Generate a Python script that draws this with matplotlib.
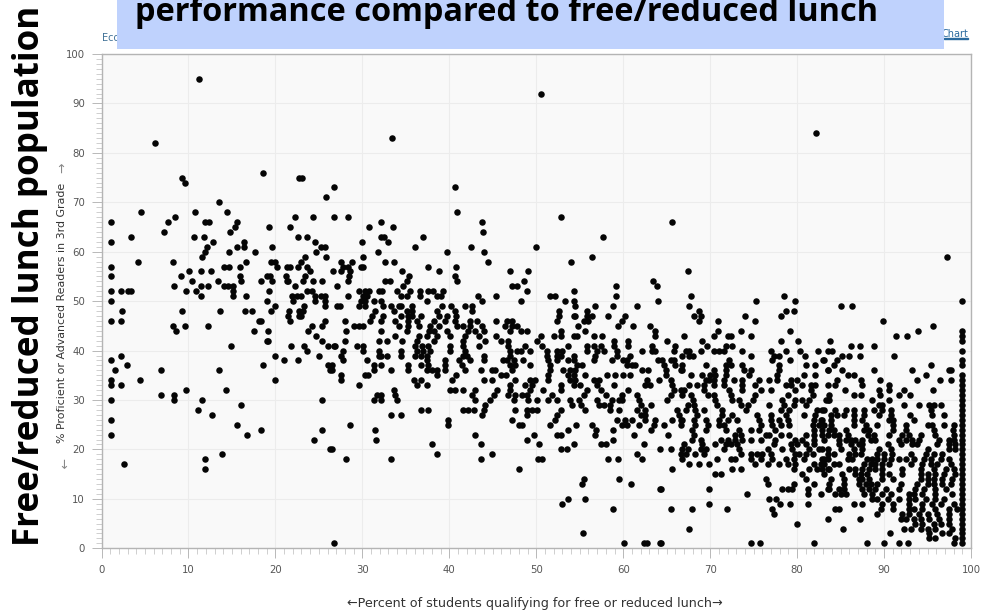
import numpy as np
import matplotlib
matplotlib.use("Agg")
import matplotlib.pyplot as plt
from matplotlib.patches import Rectangle
from matplotlib.ticker import MultipleLocator

# x values (percent free/reduced lunch) of the schools at each reading score
p95 = [11.2]
p92 = [50.6]
p84 = [82.2]
p83 = [33.4]
p82 = [6.2]
p76 = [18.6]
p75 = [9.3, 22.7, 23.1]
p74 = [9.6]
p73 = [26.7, 40.6]
p71 = [25.8]
p70 = [13.5]
p68 = [4.6, 10.7, 14.4, 40.9]
p67 = [8.5, 22.2, 24.3, 26.7, 28.4, 52.8]
p66 = [1.1, 7.7, 11.9, 12.4, 15.6, 32.2, 43.8, 65.6]
p65 = [15.3, 19.3, 21.7, 30.8, 33.5]
p64 = [7.2, 14.8, 43.9]
p63 = [3.4, 10.6, 11.8, 22.6, 23.6, 32.2, 32.5, 37, 57.7]
p62 = [1.1, 12.8, 16.4, 24.6, 30, 33]
p61 = [12.1, 15.6, 16.4, 19.6, 25.2, 25.7, 36, 42.5, 50]
p60 = [11.9, 14.7, 17.6, 24.7, 31.8, 39.7, 44]
p59 = [11.6, 23.4, 25.8, 30.1, 56.4, 97.2]
p58 = [4.2, 8.2, 16.6, 19.5, 20, 23, 27.5, 28.8, 32.6, 33.6, 44.4, 54]
p57 = [1.1, 14.1, 14.7, 15.9, 20.2, 21.3, 21.7, 22.6, 23.6, 27.8, 28.4, 29.8, 30.1, 37.5, 40.8]
p56 = [10.1, 11.5, 12.6, 24, 26.6, 27.6, 28.6, 34.6, 38.8, 47, 49, 67.5]
p55 = [1.1, 9.1, 15.9, 19, 19.4, 21.2, 23.4, 28.5, 35.4, 40.7]
p54 = [10.4, 13.4, 16.1, 18.4, 19.6, 21.3, 21.5, 23.2, 24.3, 25.4, 28.3, 32.6, 33.2, 35.1, 40.9, 48.6, 63.4]
p53 = [8.3, 11.5, 12.2, 14.1, 14.6, 15.1, 22.2, 27.1, 34.7, 47.2, 47.8, 59.2, 63.9]
p52 = [1.1, 2.2, 3.1, 3.4, 9.7, 10.9, 15.1, 19.3, 23.6, 24.2, 29.6, 30.3, 30.8, 31.9, 32.3, 34, 35.5,
       36.6, 37.6, 38.1, 39.3, 48.9, 54.3]
p51 = [11.5, 15.1, 16.6, 21.9, 22.5, 23, 24.5, 25.3, 25.7, 28.3, 30.1, 30.5, 34.5, 35.1, 36.6, 38.6,
       39.1, 43.3, 45.4, 51.6, 52.2, 59.2, 67.8, 78.5]
p50 = [1.1, 19, 22, 24.5, 25.7, 29.8, 30.3, 31.3, 32.2, 37.4, 43.8, 48.2, 53.3, 54.3, 64, 75.3, 79.8]
p49 = [19.9, 23.3, 25.7, 27.1, 27.4, 29.6, 30.3, 32.4, 33.3, 34.2, 34.5, 35.7, 39.2, 40.2, 41.8, 42.6,
       54.4, 56.7, 58.8, 61.6, 67.6, 85, 86.3]
p48 = [2.4, 9.3, 13.6, 16.5, 17.3, 19.5, 21.6, 22.7, 23.2, 31.5, 33.6, 35.1, 35.7, 38.6, 40.7, 42.6,
       52.6, 55.8, 68.7, 78.7, 79.6]
p47 = [21.4, 22.7, 23, 31.1, 32.4, 34.4, 35.3, 35.7, 36.7, 38.8, 39.7, 40.8, 52.6, 54.3, 54.5, 55.8,
       56.4, 58.3, 60.2, 68.1, 69, 74, 78.1]
p46 = [1.1, 2.3, 18.1, 18.3, 21.7, 25.7, 28, 30.9, 32.2, 33.8, 35.3, 36.3, 38.2, 39.5, 40.7, 42.4, 43.2,
       45.4, 46.6, 47.2, 52.4, 55.5, 56, 59.9, 68.7, 70.9, 75.2, 89.9]
p45 = [8.2, 9.6, 12.3, 24.2, 25.4, 29, 29.6, 30.1, 34.2, 35.3, 36.5, 37.8, 38.8, 40.9, 41.6, 42.4, 43.8,
       46.4, 47.2, 47.8, 54.8, 59.4, 61.1, 63.1, 95.6]
p44 = [8.6, 17.5, 19.2, 23.8, 28.1, 32.2, 35.1, 37.7, 38.2, 39.7, 42.2, 43, 44, 47, 48.2, 48.9, 52.8,
       55.6, 63.6, 70.9, 73.6, 79.2, 93.9]
p43 = [24.7, 33.7, 36.5, 37.4, 38.6, 40.1, 41.8, 43.4, 45.4, 50.5, 52, 52.8, 54.3, 54.7, 56.6, 57.6,
       63.7, 67, 70.4, 72, 72.4, 74.7, 91.4, 92.6]
p42 = [19, 19.2, 25.4, 28, 31.9, 32.8, 34.6, 36.3, 38.2, 41.6, 44.1, 45.9, 46.8, 50.1, 58.9, 60.6, 65,
       69.1, 78.1, 80.1, 83.8]
p41 = [14.9, 21.8, 23.3, 26.1, 26.7, 26.9, 29.4, 30.1, 36.1, 36.9, 37.6, 40.1, 41.6, 43.4, 46.8, 48.7,
       50.7, 53.7, 55.8, 56.6, 57.4, 58.9, 60.6, 63.3, 66, 69.6, 71.8, 72.5, 86.2, 87.2, 88.9]
p40 = [23.6, 27.8, 30.1, 31.9, 34.5, 36.3, 37, 37.8, 40.1, 41.8, 47, 47.8, 48.2, 49.3, 51.2, 52.4, 53,
       55.8, 57, 57.8, 59.3, 62.2, 63.3, 63.7, 65.8, 67.2, 67.6, 68.9, 70.4, 71, 71.6, 73.7, 77, 78.7,
       80.3, 82.4, 83.6, 84]
p39 = [2.3, 20, 25, 27.5, 31.9, 32.2, 32.8, 34.5, 36.1, 36.7, 37.4, 41.6, 42, 44, 47, 51.2, 52.4, 52.8,
       54.3, 56.8, 59.3, 60.8, 66.8, 67.6, 68, 74.7, 77.3, 77.9, 80.9, 85.2, 86, 87.2, 91.2]
p38 = [1.1, 21, 22.6, 27.8, 30.5, 37.4, 39.5, 41.1, 42.4, 44, 46.2, 46.6, 47.4, 48.5, 51.4, 52.4, 53.7,
       54.3, 56.6, 58.7, 60, 60.4, 64, 64.5, 65.5, 65.8, 72.2, 77.1, 79.2, 83, 83.1, 84.6]
p37 = [2.9, 18.6, 26.1, 26.5, 31.3, 32.2, 35.2, 36.8, 37.6, 39.5, 41.5, 47, 47.6, 49.3, 51.6, 54.7, 55.3,
       60.4, 61, 61.4, 64.7, 66, 66.8, 69.5, 71.8, 72.4, 73.7, 77.9, 81, 82.1, 84.2, 95.4]
p36 = [1.6, 6.8, 13.5, 26.3, 26.5, 31.3, 33.3, 35.3, 37.4, 38, 38.6, 39.5, 41.8, 43.6, 44.9, 45.2, 47.2,
       51.6, 53.1, 53.9, 54.5, 62.2, 62.9, 64.9, 66.6, 66.8, 70.4, 71.8, 73.9, 74.7, 77.9, 83.5, 83.6, 85.2,
       88.9, 93.2, 97.5, 97.7]
p35 = [27.6, 30.3, 30.7, 38.6, 40.8, 46, 46.5, 51.4, 53.7, 54.3, 55.6, 58.1, 59.1, 60, 60.8, 64.9, 67.8,
       69.1, 70, 70.6, 71.8, 74.5, 77.7, 80.8, 82.1, 85.8, 86.5, 94.8]
p34 = [1.1, 4.4, 19.9, 27.6, 35.9, 36.8, 40.3, 44, 44.9, 47.6, 49.3, 49.8, 51.4, 53.9, 54.5, 56.6, 57.2,
       62.7, 64.1, 65.5, 69.5, 69.9, 70.4, 71.6, 72.7, 73.7, 75.6, 76.8, 77.7, 79.3, 80, 84.6, 87.3, 89.5,
       93.8, 96.4, 97.7]
p33 = [1.1, 2.2, 29.6, 36.3, 37.4, 47, 48.7, 49.5, 52.8, 54.3, 55, 57, 58.9, 62.5, 63.1, 65.6, 67.6, 68.5,
       69.3, 70.4, 71.6, 73.7, 75.2, 78.7, 79.3, 80.6, 81.6, 82.1, 83.5, 84.4, 87.5, 90.6]
p32 = [9.7, 14.3, 33.6, 40.1, 40.7, 41.6, 43, 45.5, 47, 49.3, 50.8, 52.8, 55.8, 57.4, 60.6, 65.8, 66.6, 67,
       69.3, 72.2, 73.7, 75.8, 77, 79.8, 81.6, 85.5, 89.4, 90.6, 92.3, 95.6]
p31 = [6.8, 8.3, 31.7, 32.2, 33.8, 42.6, 45.1, 46.8, 47.6, 48.4, 48.9, 51.8, 55.5, 58, 59.9, 61.6, 65.5,
       66.8, 67.8, 69.7, 70.4, 72.4, 75.2, 79, 81.8, 83.7, 86.5, 87.3, 89.5, 91.7, 93]
p30 = [1.1, 8.3, 11.6, 25.4, 31.3, 32.2, 34, 43, 44.7, 47.4, 49.1, 50.1, 51.4, 52.4, 53.9, 54.9, 57, 58.7,
       59.5, 59.9, 61.8, 65, 68, 70.6, 72.5, 73.3, 74.9, 78.3, 79.8, 80.6, 81.4, 83.3, 83.5, 83.7, 88.6, 90.6]
p29 = [16.1, 44.1, 54.1, 55.1, 57.2, 57.8, 58.5, 62, 63.2, 67.4, 68.1, 70.8, 73.5, 74.3, 76.8, 78.5, 79.6, 81,
       89.4, 89.8, 92.3, 94, 95.2, 95.7, 96.5]
p28 = [11.1, 36.8, 37.6, 41.6, 42.2, 42.8, 44, 47.5, 48.9, 49.5, 50.1, 52.8, 55.6, 58.5, 59.5, 61.6, 62.5,
       66.2, 67.2, 68.3, 69.3, 71.4, 74.1, 78.1, 79.1, 82.3, 82.9, 83.1, 84.4, 85.6, 86.5, 87.7, 88.8, 89.8,
       90.8, 95.4]
p27 = [12.7, 33.3, 34.4, 43.8, 48.9, 52.4, 62, 62.5, 66.4, 68.5, 71.4, 72.5, 75.4, 77, 78.7, 80.8, 82.1,
       83.9, 84.6, 85.4, 86.5, 87.7, 89.4, 90.8, 93, 95.5, 96.9]
p26 = [1.1, 39.8, 47.2, 52.2, 59.3, 60.2, 61, 62.5, 63.7, 65.6, 66.6, 66.8, 68.1, 69.5, 71, 72, 73.1, 75.6, 77,
       77.9, 79, 81.9, 82.7, 82.9, 83.9, 86.5, 87.5, 90.6, 91, 93.4]
p25 = [15.6, 28.6, 39.8, 48, 48.4, 51.6, 54.6, 56.4, 59.9, 60.4, 61.8, 63.5, 64.7, 66.6, 68.3, 69.7, 71, 71.6,
       75.8, 77.1, 78.1, 79.1, 81.8, 82.5, 83.1, 83.9, 86.5, 87.9, 89.2, 91, 92.5, 95, 95.5, 96.9, 98]
p24 = [18.4, 25.4, 31.5, 53.7, 56.9, 58.8, 63.2, 67.9, 69.5, 71.8, 73.3, 74.7, 75.6, 77.5, 81.9, 82.9, 83.7,
       84.2, 85.6, 87.7, 88.3, 91, 92.5, 95.7, 97.9]
p23 = [1.1, 16.7, 43, 49.7, 52.4, 52.8, 56.8, 61.2, 65.2, 68.1, 72.9, 73.5, 76.4, 76.8, 78.1, 79.1, 81, 81.9,
       82.9, 83.5, 84.2, 84.8, 85.8, 88.1, 88.8, 90.6, 92.1, 92.9, 94.2, 95.9, 98]
p22 = [24.4, 31.6, 48.9, 58.8, 67.9, 68.9, 71.2, 72, 72.9, 73.7, 74.7, 75.8, 77.5, 79.8, 80.6, 81.9, 83.1, 84.8,
       85.6, 86.2, 86.7, 87.5, 88.5, 89, 91.7, 92.5, 93.2, 94, 96.3, 97.5, 98]
p21 = [38, 43.6, 50.3, 54.3, 57.4, 58, 62.4, 67, 69.1, 70.6, 71.8, 72.4, 73.1, 77.3, 79.3, 80, 81, 81.9, 84.8,
       86.2, 87.1, 87.5, 90.4, 91.9, 93.2, 93.8, 96.1, 97.5, 98.2]
p20 = [26.3, 26.5, 52.8, 53.5, 64.2, 65.5, 66.8, 67.4, 68.9, 69.5, 71.6, 73.3, 76.6, 78.3, 79.4, 81.4, 82.5,
       82.9, 83.5, 85, 86.5, 87.5, 89.4, 90.8, 95, 97.5, 98.2]
p19 = [13.9, 38.6, 44.9, 61.6, 66.6, 67.2, 68.3, 69.3, 73.5, 74.7, 75.4, 76, 77, 79.8, 80.2, 81, 81.8, 83.5,
       84.2, 86, 86.7, 87.3, 89.2, 90, 90.9, 93.1, 94.8, 95.7, 96.7]
p18 = [11.9, 28.1, 33.3, 43.6, 50.2, 50.7, 58.3, 59.4, 62.2, 66.8, 70.8, 72.4, 72.9, 74.7, 75.8, 77.1, 78.7,
       79.6, 80.8, 82.9, 83.1, 83.5, 85.8, 86.3, 88, 88.6, 89.2, 90, 90.8, 91.7, 92.5, 93.4, 94.6, 95.4, 96.5,
       97.5]
p17 = [2.6, 67.6, 68.7, 69.9, 75.2, 76.7, 77.9, 78.9, 79.8, 81.9, 82.7, 83.1, 84.2, 84.8, 87.7, 88.5, 89, 89.8,
       90.6, 93.1, 94.4, 95.4, 96.1, 97.7]
p16 = [11.9, 48, 65.6, 72.5, 73.6, 79.6, 81.4, 82.3, 82.9, 83.5, 83.7, 86, 86.7, 87.5, 88.3, 89, 89.8, 92.1,
       94.2, 95.7, 97.1, 98]
p15 = [70.6, 71.3, 80.6, 83.1, 85.2, 86.7, 87.3, 88, 89.8, 90.6, 92.1, 94.2, 95, 95.9, 96.9, 98.2]
p14 = [55.5, 59.5, 76.4, 81, 83.9, 85.4, 87.1, 87.5, 88.3, 89.8, 91, 94.2, 95, 95.7, 96.7, 97.8]
p13 = [55.3, 60.9, 76.6, 79.6, 81.9, 83.7, 85.4, 87.1, 87.9, 88.5, 89.2, 91.9, 93.8, 95, 95.7, 96.7, 97.7]
p12 = [64.2, 64.4, 69.9, 78.3, 78.9, 79.4, 81.2, 83.5, 83.7, 84.8, 85.4, 87.5, 88.3, 89, 90.2, 91.7, 93.6, 94.6,
       95.9, 97.1]
p11 = [74.2, 81.2, 82.7, 84.4, 85, 85.6, 87.7, 88.6, 89.8, 90.8, 92.9, 93.4, 94.4, 95.9, 97.8]
p10 = [53.6, 55.6, 76.8, 77.6, 88.6, 89.2, 90.4, 91.7, 92.9, 93.6, 94.8, 95.9, 96.9]
p9 = [53, 69.9, 78, 79.2, 81.3, 86.5, 87.5, 89.8, 91, 92.9, 94.4, 95.5, 96.5, 98]
p8 = [58.8, 65.5, 67.9, 71.9, 77.1, 84.4, 84.8, 89.6, 91, 92.9, 93.4, 94.4, 95.9, 97.5, 98.4]
p7 = [77.4, 89.2, 92.1, 92.9, 94, 95, 96.1, 97.5]
p6 = [83.5, 87.2, 91.9, 92.5, 93.4, 94.2, 95.2, 96.3, 97.5]
p5 = [80, 93.6, 94.4, 95.7, 96.5, 97.5]
p4 = [67.6, 85.3, 92.3, 93.1, 94.2, 95, 95.9, 97.8]
p3 = [55.4, 90.7, 95.2, 96.7, 97.5]
p2 = [95.2, 95.9, 98.2]
p1 = [26.7, 60.1, 62.4, 62.7, 64.2, 64.4, 74.7, 75.7, 82, 88, 90, 91.7, 92.7, 98]

scores = [95, 92, 84, 83, 82, 76, 75, 74, 73, 71, 70, 68, 67, 66, 65, 64, 63, 62, 61, 60, 59, 58, 57, 56, 55,
          54, 53, 52, 51, 50, 49, 48, 47, 46, 45, 44, 43, 42, 41, 40, 39, 38, 37, 36, 35, 34, 33, 32, 31, 30,
          29, 28, 27, 26, 25, 24, 23, 22, 21, 20, 19, 18, 17, 16, 15, 14, 13, 12, 11, 10, 9, 8, 7, 6, 5, 4,
          3, 2, 1]
lunch = [p95, p92, p84, p83, p82, p76, p75, p74, p73, p71, p70, p68, p67, p66, p65, p64, p63, p62, p61, p60,
         p59, p58, p57, p56, p55, p54, p53, p52, p51, p50, p49, p48, p47, p46, p45, p44, p43, p42, p41, p40,
         p39, p38, p37, p36, p35, p34, p33, p32, p31, p30, p29, p28, p27, p26, p25, p24, p23, p22, p21, p20,
         p19, p18, p17, p16, p15, p14, p13, p12, p11, p10, p9, p8, p7, p6, p5, p4, p3, p2, p1]

# the solid column of schools at 99 percent
col99_scores = [50, 44, 43, 42, 40, 38, 37, 35, 34, 33, 32, 31, 30, 29, 28, 27, 26, 25, 24, 23, 22, 21, 20, 19,
                18, 17, 16, 15, 14, 13, 12, 11, 10, 9, 8, 7, 6, 5, 4, 3, 2, 1]

x = np.concatenate([lunch[i] for i in range(len(scores))] + [[99] * len(col99_scores)])
y = np.concatenate([[scores[i]] * len(lunch[i]) for i in range(len(scores))] + [col99_scores])

W, H = 984, 611
fig = plt.figure(figsize=(W / 100, H / 100), dpi=100, facecolor="white")
ax = fig.add_axes([101.5 / W, 1 - 548.3 / H, (971 - 101.5) / W, (548.3 - 54) / H])
ax.set_facecolor("#f9f9f9")
ax.scatter(x, y, s=22, color="#050505", linewidths=0, clip_on=False, zorder=3)
ax.set_xlim(0, 100)
ax.set_ylim(0, 100)

ax.xaxis.set_major_locator(MultipleLocator(10))
ax.xaxis.set_minor_locator(MultipleLocator(1))
ax.yaxis.set_major_locator(MultipleLocator(10))
ax.yaxis.set_minor_locator(MultipleLocator(1))
ax.grid(which="major", color="#ececec", linewidth=0.8)
ax.set_axisbelow(True)
ax.tick_params(which="major", length=7, width=0.7, color="#b8b8b8", labelsize=7.3, labelcolor="#555555", pad=5)
ax.tick_params(which="minor", length=4, width=0.6, color="#c8c8c8")
for s in ax.spines.values():
    s.set_color("#b4b4b4")
    s.set_linewidth(1.0)

# y axis title with its arrows, x axis title
fig.text(62 / W, 1 - 313 / H, "% Proficient or Advanced Readers in 3rd Grade", rotation=90,
         ha="center", va="center", fontsize=7.9, color="#333333")
fig.text(62 / W, 1 - 168 / H, "→", rotation=90, ha="center", va="center", fontsize=9, color="#888888")
fig.text(62 / W, 1 - 463 / H, "→", rotation=270, ha="center", va="center", fontsize=9, color="#888888")
fig.text(535 / W, 1 - 604 / H, "←Percent of students qualifying for free or reduced lunch→",
         ha="center", va="center", fontsize=9.2, color="#333333")

# bits of the original page header, mostly hidden by the banner
fig.text(102 / W, 1 - 38 / H, "Eco", ha="left", va="center", fontsize=7, color="#3f7096", zorder=1)
fig.text(968 / W, 1 - 34 / H, "Chart", ha="right", va="center", fontsize=7, color="#2a6a9e", zorder=1)
fig.add_artist(Rectangle((944 / W, 1 - 38.5 / H), 24 / W, 0.5 / H, transform=fig.transFigure,
                         color="#2a6a9e", zorder=1))

fig.add_artist(Rectangle((117 / W, 1 - 49 / H), (944 - 117) / W, 49 / H, transform=fig.transFigure,
                         facecolor="#bfd2fd", edgecolor="none", zorder=4))
fig.text(135 / W, 1 - 21 / H, "performance compared to free/reduced lunch", ha="left", va="baseline",
         family="Open Sans", weight="bold", fontsize=23.4, color="#000000", zorder=5)
fig.text(38.5 / W, 1 - 546 / H, "Free/reduced lunch population", rotation=90, ha="left", va="baseline",
         rotation_mode="anchor", family="Open Sans", weight="bold", fontsize=25.2, color="#000000", zorder=5)

fig.savefig("out.png", dpi=100)
